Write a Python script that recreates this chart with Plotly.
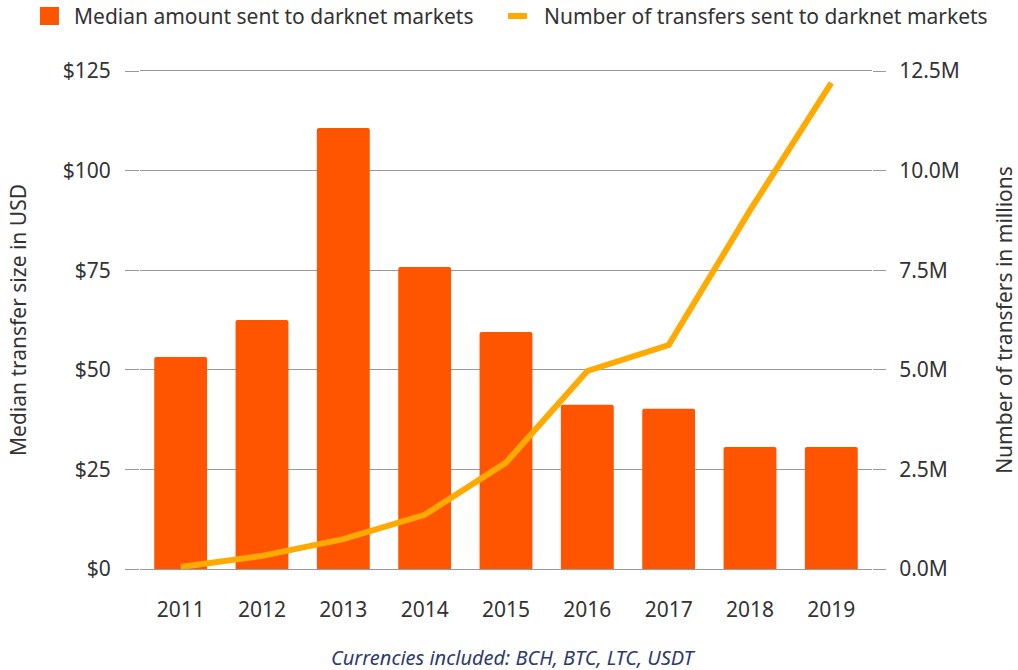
import plotly.graph_objects as go

# Darknet market transfers by year
years = ["2011", "2012", "2013", "2014", "2015", "2016", "2017", "2018", "2019"]
median_usd = [53.2, 62.5, 110.7, 75.8, 59.5, 41.2, 40.2, 30.6, 30.6]
transfers_m = [0.05, 0.33, 0.75, 1.36, 2.67, 4.97, 5.62, 9.0, 12.2]

usd_ticks = [0, 25, 50, 75, 100, 125]
usd_labels = ["$0", "$25", "$50", "$75", "$100", "$125"]
m_ticks = [0, 2.5, 5, 7.5, 10, 12.5]
m_labels = ["0.0M", "2.5M", "5.0M", "7.5M", "10.0M", "12.5M"]

BAR_NAME = "Median amount sent to darknet markets"
LINE_NAME = "Number of transfers sent to darknet markets"

BAR = "#FF5500"
LINE = "#FFAA00"
GRID = "#9a9a9a"
TEXT = "#333333"
FONT = "Noto Sans"
FS = 21

fig = go.Figure()
fig.add_trace(go.Bar(
    x=years, y=median_usd, name=BAR_NAME,
    marker=dict(color=BAR, line=dict(width=0)), yaxis="y",
))
fig.add_trace(go.Scatter(
    x=years, y=transfers_m, name=LINE_NAME,
    mode="lines", line=dict(color=LINE, width=6), yaxis="y2",
))

# Legend drawn as swatches + labels above the plot
legend_shapes = [
    dict(type="rect", xref="paper", yref="paper",
         x0=-0.1366, x1=-0.1107, y0=1.0924, y1=1.1285,
         fillcolor=BAR, line=dict(width=0)),
    dict(type="rect", xref="paper", yref="paper",
         x0=0.5027, x1=0.5287, y0=1.1044, y1=1.1165,
         fillcolor=LINE, line=dict(width=0)),
]
legend_labels = [
    dict(text=BAR_NAME, xref="paper", yref="paper", x=-0.0929, y=1.1104,
         xanchor="left", yanchor="middle", showarrow=False,
         font=dict(size=FS, color=TEXT)),
    dict(text=LINE_NAME, xref="paper", yref="paper", x=0.5492, y=1.1104,
         xanchor="left", yanchor="middle", showarrow=False,
         font=dict(size=FS, color=TEXT)),
]

fig.update_layout(
    width=1018, height=670,
    margin=dict(l=140, r=146, t=71, b=101, autoexpand=False),
    paper_bgcolor="white", plot_bgcolor="white",
    font=dict(family=FONT, size=FS, color=TEXT),
    bargap=0.35, barcornerradius=2,
    showlegend=False,
    xaxis=dict(
        type="category", showgrid=False, zeroline=False,
        showline=True, linecolor=GRID, linewidth=1, mirror=True,
        ticks="", ticklabelstandoff=22, tickfont=dict(size=FS),
    ),
    yaxis=dict(
        range=[0, 125], tickvals=usd_ticks, ticktext=usd_labels,
        showgrid=True, gridcolor=GRID, gridwidth=1, zeroline=False,
        ticks="outside", ticklen=14, tickcolor=GRID, ticklabelstandoff=10,
        tickfont=dict(size=FS),
        title=dict(text="Median transfer size in USD", font=dict(size=FS), standoff=30),
    ),
    yaxis2=dict(
        range=[0, 12.5], tickvals=m_ticks, ticktext=m_labels,
        overlaying="y", side="right", showgrid=False, zeroline=False,
        ticks="outside", ticklen=13, tickcolor=GRID, ticklabelstandoff=9,
        tickfont=dict(size=FS),
        title=dict(text="Number of transfers in millions", font=dict(size=FS), standoff=48),
    ),
    shapes=legend_shapes,
    annotations=legend_labels + [dict(
        text="<i>Currencies included: BCH, BTC, LTC, USDT</i>",
        xref="paper", yref="paper", x=0.51, y=-0.177, xanchor="center", yanchor="middle",
        showarrow=False, font=dict(size=20, color="#2e3a6e"),
    )],
)

fig.write_html("out.html")
